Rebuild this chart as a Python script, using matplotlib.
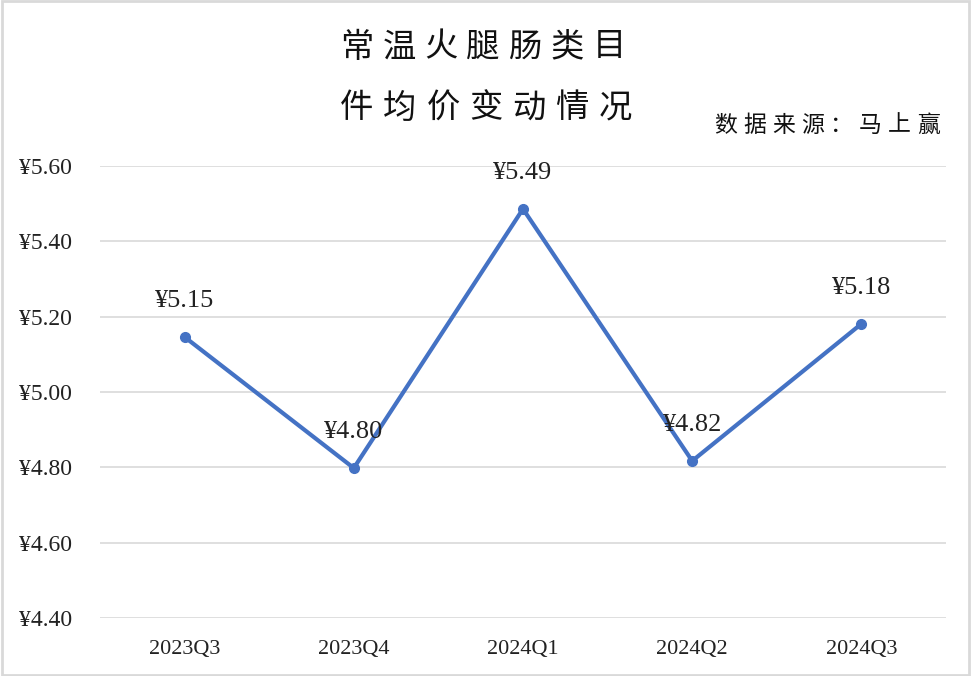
import matplotlib.pyplot as plt

plt.rcParams['font.family'] = ['Liberation Serif', 'Noto Sans CJK SC']

# quarterly average price per item
quarters = ['2023Q3', '2023Q4', '2024Q1', '2024Q2', '2024Q3']
prices = [5.146, 4.798, 5.486, 4.817, 5.181]
yticks = [4.40, 4.60, 4.80, 5.00, 5.20, 5.40, 5.60]

W, H = 971, 676
fig = plt.figure(figsize=(W / 100, H / 100), dpi=100)
ax = fig.add_axes([100 / W, 1 - 618 / H, 846 / W, 452 / H])

x = range(len(quarters))
ax.plot(x, prices, color='#4472C4', linewidth=3, marker='o', markersize=7, zorder=3)

for i, p in enumerate(prices):
    ax.annotate(f'¥{p:.2f}', (i, p), xytext=(0, 26), textcoords='offset points',
                ha='center', va='center', fontsize=19, color='#222222')

ax.set_xlim(-0.5, len(quarters) - 0.5)
ax.set_ylim(4.40, 5.60)
ax.set_yticks(yticks)
ax.set_yticklabels([f'¥{t:.2f}' for t in yticks])
ax.set_xticks(list(x))
ax.set_xticklabels(quarters)
ax.tick_params(axis='both', length=0, colors='#222222')
ax.tick_params(axis='y', pad=20, labelsize=17)
ax.tick_params(axis='x', pad=16, labelsize=16)
ax.grid(axis='y', color='#d9d9d9', linewidth=1.2)
ax.set_axisbelow(True)
for s in ax.spines.values():
    s.set_visible(False)


def spaced_text(cx, cy, s, size, step):
    # draw characters one by one with wide spacing (pixel coords)
    x0 = cx - step * (len(s) - 1) / 2
    for k, ch in enumerate(s):
        fig.text((x0 + k * step) / W, 1 - cy / H, ch, ha='center', va='center',
                 fontsize=size, family=['Noto Sans CJK SC'], color='#111111')


spaced_text(483, 47, '常温火腿肠类目', 24, 42)
spaced_text(486, 108, '件均价变动情况', 24, 43)
spaced_text(827, 125, '数据来源：马上赢', 16.5, 29)

# light frame around the whole chart
fig.patches.append(plt.Rectangle((0.002, 0.002), 0.996, 0.996, transform=fig.transFigure,
                                 fill=False, edgecolor='#d9d9d9', linewidth=2))

fig.savefig('out.png', dpi=100)
